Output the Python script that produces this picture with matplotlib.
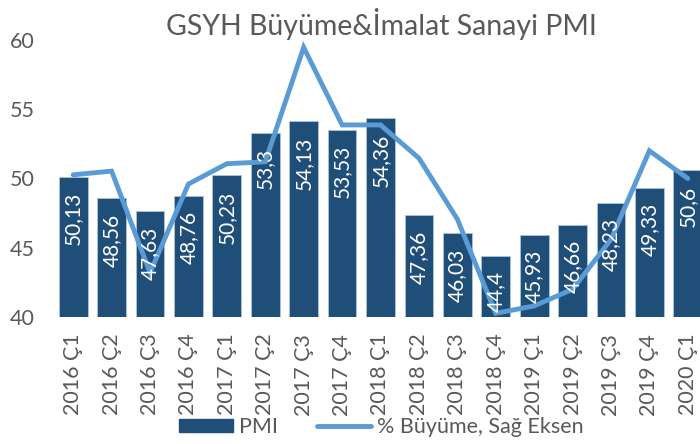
import numpy as np
import matplotlib
matplotlib.use("Agg")
import matplotlib.pyplot as plt

plt.rcParams['font.family'] = ['Lato', 'DejaVu Sans']

quarters = ["2016 Ç1", "2016 Ç2", "2016 Ç3", "2016 Ç4",
            "2017 Ç1", "2017 Ç2", "2017 Ç3", "2017 Ç4",
            "2018 Ç1", "2018 Ç2", "2018 Ç3", "2018 Ç4",
            "2019 Ç1", "2019 Ç2", "2019 Ç3", "2019 Ç4", "2020 Ç1"]
pmi = [50.13, 48.56, 47.63, 48.76, 50.23, 53.3, 54.13, 53.53, 54.36,
       47.36, 46.03, 44.4, 45.93, 46.66, 48.23, 49.33, 50.6]
pmi_labels = ["50,13", "48,56", "47,63", "48,76", "50,23", "53,3", "54,13", "53,53", "54,36",
              "47,36", "46,03", "44,4", "45,93", "46,66", "48,23", "49,33", "50,6"]
growth = [4.7, 4.9, -0.6, 4.2, 5.3, 5.4, 11.6, 7.4, 7.4,
          5.6, 2.3, -2.8, -2.4, -1.5, 1.2, 6.0, 4.5]

bar_color = "#1f4e79"
line_color = "#5b9bd5"
text_gray = "#595959"

fig = plt.figure(figsize=(7, 4.44), dpi=100)
ax = fig.add_axes([54 / 700, 0.286, (707 - 54) / 700, 0.624])
x = np.arange(len(quarters))

ax.bar(x, np.array(pmi) - 40, bottom=40, width=0.75, color=bar_color,
       edgecolor="#a9c4e0", linewidth=0.6, zorder=2)
ax.set_ylim(40, 60)
ax.set_xlim(-0.5, len(quarters) - 0.5)
ax.set_yticks([40, 45, 50, 55, 60])
ax.set_xticks(x)
ax.set_xticklabels(quarters, rotation=90)
ax.tick_params(axis="both", length=0, labelsize=15.5, labelcolor=text_gray)
ax.tick_params(axis="y", pad=14)
ax.tick_params(axis="x", pad=12)
for s in ax.spines.values():
    s.set_visible(False)

ax2 = ax.twinx()
ax2.plot(x, growth, color=line_color, linewidth=3.5, solid_capstyle="round",
         solid_joinstyle="miter", zorder=3)
ax2.set_ylim(-3, 12)
ax2.set_yticks([])
for s in ax2.spines.values():
    s.set_visible(False)

# bar labels on top of the line
for i, (v, lab) in enumerate(zip(pmi, pmi_labels)):
    ax2.annotate(lab, xy=(i, v), xycoords=ax.transData, xytext=(0, -11),
                 textcoords="offset points", rotation=90, ha="center", va="top",
                 color="white", fontsize=15, zorder=5)

fig.text(0.545, 0.946, "GSYH Büyüme&İmalat Sanayi PMI", ha="center", va="center",
         fontsize=20.5, color=text_gray)

h1 = plt.Rectangle((0, 0), 1, 1, color=bar_color)
h2 = plt.Line2D([], [], color=line_color, linewidth=3.5, solid_capstyle="round")
fig.legend([h1, h2], ["PMI", "% Büyüme, Sağ Eksen"], loc="center",
           bbox_to_anchor=(0.545, 0.038), ncol=2, frameon=False, fontsize=15.5,
           labelcolor=text_gray, handlelength=2.5, handleheight=0.5,
           handletextpad=0.3, columnspacing=1.8)

fig.savefig("out.png", dpi=100)
